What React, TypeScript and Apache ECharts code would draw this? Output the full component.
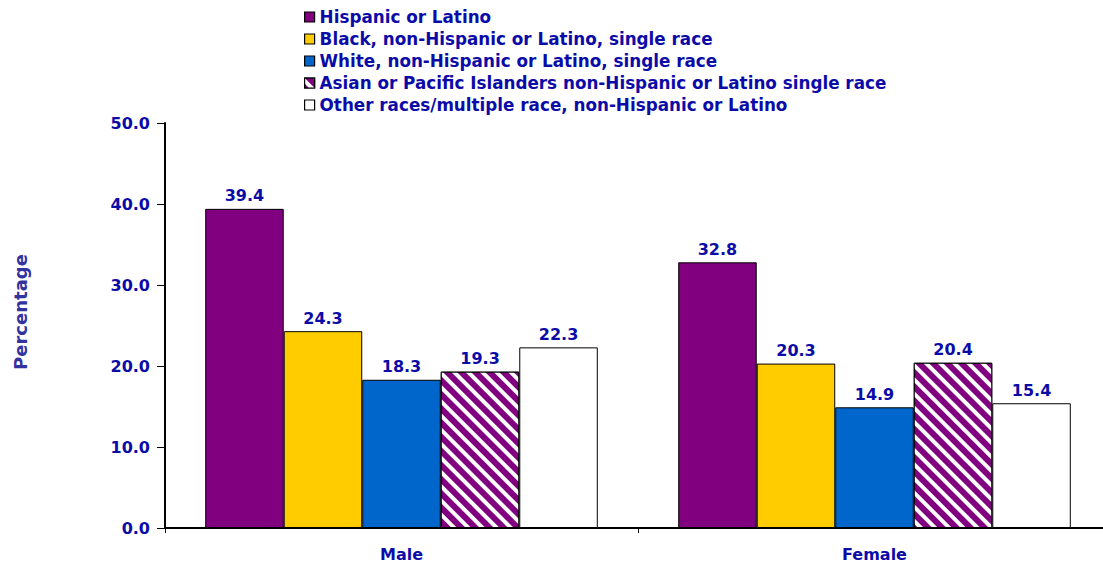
import React, { useEffect, useRef } from "react";
import * as echarts from "echarts";

const categories = ["Male", "Female"];
const seriesNames = [
  "Hispanic or Latino",
  "Black, non-Hispanic or Latino, single race",
  "White, non-Hispanic or Latino, single race",
  "Asian or Pacific Islanders non-Hispanic or Latino single race",
  "Other races/multiple race, non-Hispanic or Latino",
];
const hispanic = [39.4, 32.8];
const black = [24.3, 20.3];
const white = [18.3, 14.9];
const asian = [19.3, 20.4];
const other = [22.3, 15.4];
const values = [hispanic, black, white, asian, other];
const colors = ["#800080", "#FFCC00", "#0066CC", "#800080", "#FFFFFF"];
const yTicks = { min: 0, max: 50, interval: 10 };

const TEXT = "#0B0BA8";

export default function App() {
  const ref = useRef<HTMLDivElement>(null);
  useEffect(() => {
    document.body.style.margin = "0";
    document.body.style.overflow = "hidden";
    document.documentElement.style.overflow = "hidden";
    const chart = echarts.init(ref.current!, null, { renderer: "svg" });
    const font = "DejaVu Sans, sans-serif";
    chart.setOption({
      animation: false,
      backgroundColor: "#fff",
      textStyle: { fontFamily: font },
      legend: {
        orient: "vertical",
        left: 299,
        top: 3,
        icon: "rect",
        itemWidth: 10,
        itemHeight: 10,
        itemGap: 4,
        data: seriesNames,
        textStyle: { color: TEXT, fontWeight: "bold", fontSize: 16.8, fontFamily: font, padding: [0, 0, 0, 0], lineHeight: 18 },
        itemStyle: { borderColor: "#000", borderWidth: 1.2 },
      },
      grid: { left: 165, right: 0, top: 123, height: 405, containLabel: false },
      xAxis: {
        type: "category",
        data: categories,
        axisLine: { lineStyle: { color: "#000", width: 2 } },
        axisTick: { show: true, length: 5, lineStyle: { color: "#000" } },
        axisLabel: { color: TEXT, fontWeight: "bold", fontSize: 16, margin: 18, fontFamily: font },
      },
      yAxis: {
        type: "value",
        min: yTicks.min,
        max: yTicks.max,
        interval: yTicks.interval,
        splitLine: { show: false },
        axisLine: { show: true, lineStyle: { color: "#000", width: 2 } },
        axisTick: { show: true, length: 8, lineStyle: { color: "#000" } },
        axisLabel: {
          color: TEXT,
          fontWeight: "bold",
          fontSize: 16,
          margin: 15,
          fontFamily: font,
          formatter: (v: number) => v.toFixed(1),
        },
      },
      graphic: [
        {
          type: "text",
          x: 20,
          y: 312,
          rotation: Math.PI / 2,
          style: {
            text: "Percentage",
            fill: "#3333A0",
            font: `bold 18px ${font}`,
            textAlign: "center",
            textVerticalAlign: "middle",
          },
        },
      ],
      series: seriesNames.map((name, i) => ({
        name,
        type: "bar",
        data: values[i],
        barGap: "0%",
        barCategoryGap: "17%",
        itemStyle: {
          color: colors[i],
          borderColor: "#000",
          borderWidth: 1,
          decal:
            i === 3
              ? {
                  symbol: "rect",
                  symbolSize: 1,
                  color: "#ffffff",
                  dashArrayX: [1, 0],
                  dashArrayY: [4, 5.5],
                  rotation: Math.PI / 4,
                }
              : "none",
        },
        label: {
          show: true,
          position: "top",
          distance: 5,
          color: TEXT,
          fontWeight: "bold",
          fontSize: 16,
          fontFamily: font,
          formatter: (p: any) => p.value.toFixed(1),
        },
      })),
    });
    return () => chart.dispose();
  }, []);
  return <div ref={ref} style={{ width: 1111, height: 566 }} />;
}
